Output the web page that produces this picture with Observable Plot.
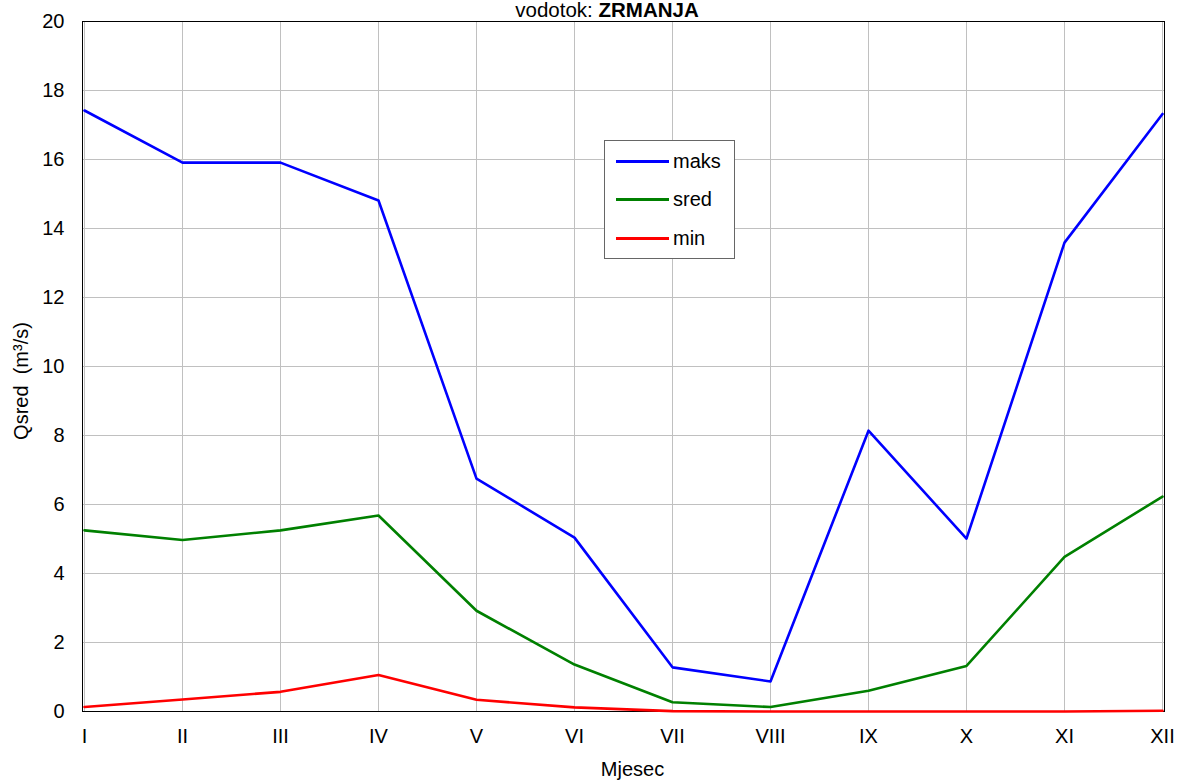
<!DOCTYPE html>
<html>
<head>
<meta charset="utf-8">
<script src="https://cdn.jsdelivr.net/npm/d3@7"></script>
<script src="https://cdn.jsdelivr.net/npm/@observablehq/plot@0.6"></script>
<style>
  html, body { margin: 0; padding: 0; background: #fff; }
  #wrap { position: relative; width: 1179px; height: 782px; font-family: "Liberation Sans", Arial, sans-serif; }
  #title { position: absolute; top: 0; left: 607px; transform: translateX(-50%); font-size: 20.5px; line-height: 20px; white-space: nowrap; color: #000; }
  #ytitle { position: absolute; left: 21px; top: 381px; transform: translate(-50%, -50%) rotate(-90deg); font-size: 20px; line-height: 20px; white-space: pre; color: #000; }
  #legend { position: absolute; left: 604px; top: 140px; width: 129px; height: 117px; border: 1px solid #666; background: #fff; }
  .row { position: absolute; left: 11px; height: 24px; display: flex; align-items: center; font-size: 20px; color: #000; }
  .sw { width: 53px; height: 3px; margin-right: 4px; }
</style>
</head>
<body>
<div id="wrap">
  <div id="chart"></div>
  <div id="title">vodotok: <b>ZRMANJA</b></div>
  <div id="ytitle"></div>
  <div id="legend"></div>
</div>
<script>
const months = ["I","II","III","IV","V","VI","VII","VIII","IX","X","XI","XII"];
const maks = [17.42, 15.91, 15.91, 14.81, 6.75, 5.04, 1.28, 0.87, 8.14, 5.01, 13.59, 17.32];
const sred = [5.25, 4.97, 5.25, 5.68, 2.92, 1.36, 0.27, 0.13, 0.60, 1.32, 4.48, 6.23];
const minv = [0.13, 0.35, 0.57, 1.06, 0.34, 0.12, 0.01, 0.00, 0.00, 0.00, 0.00, 0.02];
const seriesNames = ["maks", "sred", "min"];
const seriesColors = ["#0000ff", "#008000", "#ff0000"];
const yTicks = [0, 2, 4, 6, 8, 10, 12, 14, 16, 18, 20];
const xTitle = "Mjesec";
const yTitle = "Qsred  (m³/s)";

const seriesValues = [maks, sred, minv];
const rows = [];
seriesNames.forEach((s, i) => {
  months.forEach((m, j) => rows.push({series: s, month: m, value: seriesValues[i][j]}));
});

const chart = Plot.plot({
  width: 1179,
  height: 782,
  marginLeft: 82,
  marginRight: 15,
  marginTop: 21,
  marginBottom: 71,
  style: {fontSize: "20px", fontFamily: "'Liberation Sans', Arial, sans-serif", color: "#000", background: "transparent"},
  x: {type: "point", domain: months, padding: 0},
  y: {domain: [0, 20]},
  color: {domain: seriesNames, range: seriesColors},
  marks: [
    Plot.gridX(months, {stroke: "#c0c0c0", strokeOpacity: 1}),
    Plot.gridY(yTicks, {stroke: "#c0c0c0", strokeOpacity: 1}),
    Plot.frame({stroke: "#000", strokeWidth: 1}),
    Plot.axisX({tickSize: 0, tickPadding: 17, label: null}),
    Plot.axisY({ticks: yTicks, tickSize: 0, tickPadding: 18, label: null}),
    Plot.text([xTitle], {frameAnchor: "bottom", text: d => d, dx: 9, dy: 58, lineAnchor: "middle", fontSize: 20}),
    Plot.line(rows, {x: "month", y: "value", z: "series", stroke: "series", strokeWidth: 2.6})
  ]
});
document.getElementById("chart").appendChild(chart);
document.getElementById("ytitle").textContent = yTitle;

const legend = document.getElementById("legend");
const rowCenters = [20, 58, 97];
seriesNames.forEach((s, i) => {
  const r = document.createElement("div");
  r.className = "row";
  r.style.top = (rowCenters[i] - 12) + "px";
  const sw = document.createElement("div");
  sw.className = "sw";
  sw.style.background = seriesColors[i];
  const t = document.createElement("span");
  t.textContent = s;
  r.appendChild(sw);
  r.appendChild(t);
  legend.appendChild(r);
});
</script>
</body>
</html>
